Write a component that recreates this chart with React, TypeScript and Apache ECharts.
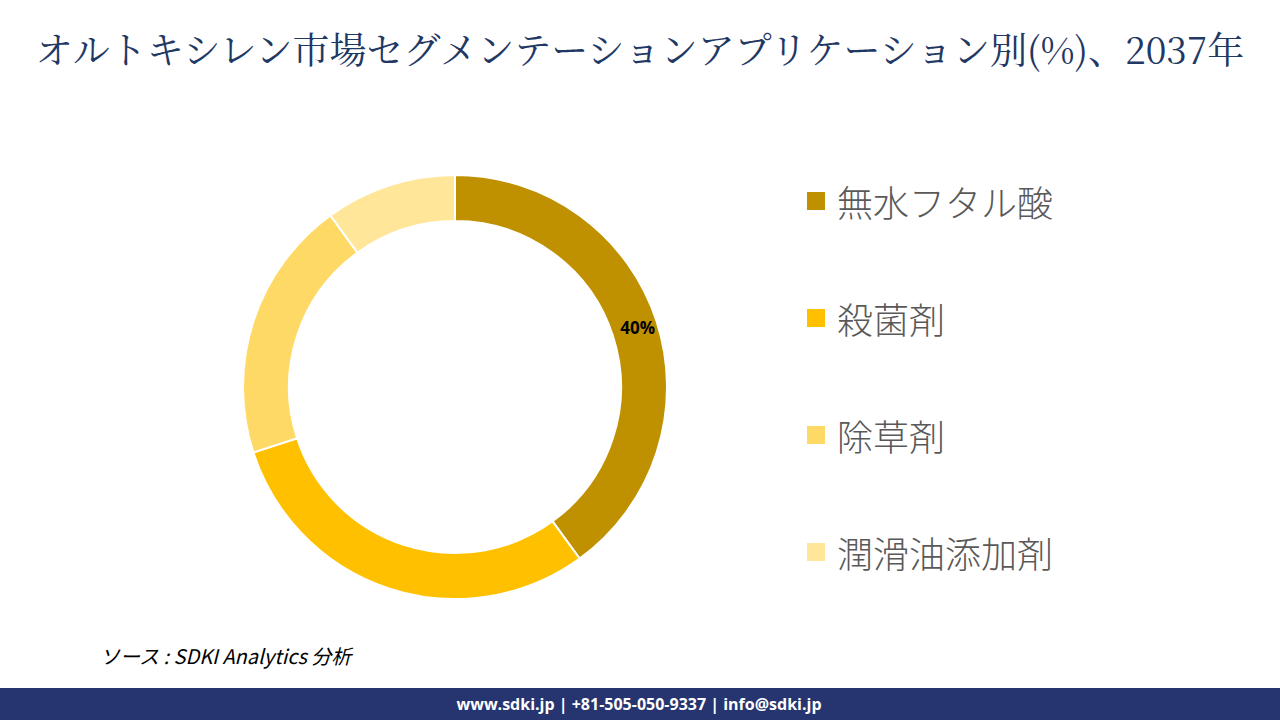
import React, { useEffect, useRef } from "react";
import * as echarts from "echarts";

const TITLE = "オルトキシレン市場セグメンテーションアプリケーション別(%)、2037年";
const categories = ["無水フタル酸", "殺菌剤", "除草剤", "潤滑油添加剤"];
const values = [40, 30, 20, 10];
const colors = ["#BF9000", "#FFC000", "#FFD966", "#FFE699"];
const labeledIndex = [0];
const SOURCE = "ソース : SDKI Analytics 分析";
const FOOTER = "www.sdki.jp | +81-505-050-9337 | info@sdki.jp";

export default function App() {
  const ref = useRef<HTMLDivElement>(null);
  useEffect(() => {
    if (!ref.current) return;
    const chart = echarts.init(ref.current, null, { renderer: "svg" });
    const data = categories.map((name, i) => ({
      name,
      value: values[i],
      itemStyle: { color: colors[i] },
      label: { show: labeledIndex.includes(i) },
    }));
    chart.setOption({
      animation: false,
      backgroundColor: "#ffffff",
      title: {
        text: TITLE,
        left: "center",
        top: 24,
        textStyle: {
          fontFamily: "'Noto Serif CJK JP', 'DejaVu Serif', serif",
          fontSize: 37,
          fontWeight: "normal",
          color: "#1F3864",
        },
      },
      legend: {
        orient: "vertical",
        left: 805,
        top: 183,
        padding: 0,
        itemWidth: 20,
        itemHeight: 20,
        itemGap: 81,
        icon: "rect",
        selectedMode: false,
        textStyle: {
          fontFamily: "'Noto Sans CJK JP', sans-serif",
          fontSize: 36,
          fontWeight: 300,
          lineHeight: 36,
          color: "#595959",
          padding: [0, 0, 0, 6],
        },
        data: categories,
      },
      series: [
        {
          type: "pie",
          center: [455, 387],
          radius: [166, 212],
          startAngle: 90,
          clockwise: true,
          avoidLabelOverlap: false,
          itemStyle: { borderColor: "#ffffff", borderWidth: 2 },
          label: {
            position: "inside",
            formatter: "{c}%",
            fontFamily: "'Open Sans', 'Noto Sans', sans-serif",
            fontWeight: "bold",
            fontSize: 17,
            color: "#000000",
          },
          labelLine: { show: false },
          emphasis: { disabled: true },
          data,
        },
      ],
      graphic: [
        {
          type: "text",
          left: 100,
          top: 645,
          style: {
            text: SOURCE,
            fontFamily: "'Noto Sans CJK JP', sans-serif",
            fontStyle: "italic",
            fontSize: 20,
            fill: "#000000",
          },
        },
        {
          type: "rect",
          shape: { x: 0, y: 688, width: 1280, height: 32 },
          style: { fill: "#263470" },
        },
        {
          type: "text",
          x: 639,
          y: 704,
          style: {
            text: FOOTER,
            fontFamily: "'Open Sans', 'Noto Sans', sans-serif",
            fontWeight: "bold",
            fontSize: 16,
            fill: "#ffffff",
            align: "center",
            verticalAlign: "middle",
          },
        },
      ],
    });
    return () => chart.dispose();
  }, []);
  return (
    <div
      ref={ref}
      style={{ position: "fixed", left: 0, top: 0, width: 1280, height: 720 }}
    />
  );
}
